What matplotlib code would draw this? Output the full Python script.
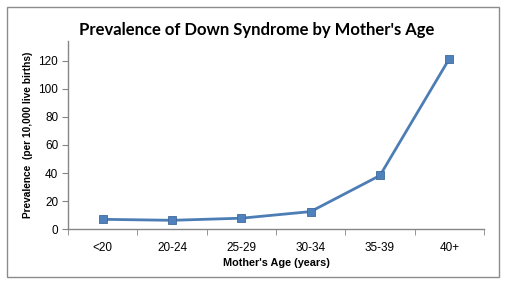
"""Prevalence of Down syndrome by mother's age, Excel-style line chart."""

import matplotlib
matplotlib.use("Agg")
import matplotlib.pyplot as plt
from matplotlib.patches import Rectangle

# data
age_groups = ["<20", "20-24", "25-29", "30-34", "35-39", "40+"]
prevalence = [7.1, 6.4, 7.9, 12.6, 38.3, 121.4]
y_ticks = [0, 20, 40, 60, 80, 100, 120]

W, H = 507, 286
fig = plt.figure(figsize=(W / 100, H / 100), dpi=100)
fig.patch.set_facecolor("white")

# outer chart border
fig.patches.append(Rectangle((7 / W, 1 - 277 / H), 492 / W, 270 / H,
                             transform=fig.transFigure, fill=False,
                             edgecolor="#8c8c8c", linewidth=1.0))

ax = fig.add_axes([68 / W, 1 - 229.3 / H, (484 - 68) / W, (229.3 - 41) / H])

x = list(range(len(age_groups)))
ax.plot(x, prevalence, color="#4d7db5", linewidth=2.0, marker="s",
        markersize=5.5, markerfacecolor="#4f81bd", markeredgecolor="#3f6a9e",
        markeredgewidth=0.6, zorder=3)

ax.set_xlim(-0.5, len(age_groups) - 0.5)
ax.set_ylim(0, 134)

ax.set_xticks(x)
ax.set_xticklabels(age_groups, fontsize=8.5, family="Liberation Sans")
ax.set_xticks([i - 0.5 for i in range(len(age_groups) + 1)], minor=True)
ax.tick_params(axis="x", which="major", length=0, pad=9)
ax.tick_params(axis="x", which="minor", length=4, color="#868686",
               direction="out")

ax.set_yticks(y_ticks)
ax.set_yticklabels([str(v) for v in y_ticks], fontsize=8.5,
                   family="Liberation Sans")
ax.tick_params(axis="y", length=4, color="#868686", direction="out", pad=3)

for side in ("top", "right"):
    ax.spines[side].set_visible(False)
for side in ("left", "bottom"):
    ax.spines[side].set_color("#868686")
    ax.spines[side].set_linewidth(1.0)

ax.set_xlabel("Mother's Age (years)", fontsize=7.8, fontweight="bold",
              family="Liberation Sans", labelpad=3)
ax.set_ylabel("Prevalence  (per 10,000 live births)", fontsize=7.3,
              fontweight="bold", family="Liberation Sans", labelpad=4)

fig.text(257 / W, 1 - 30 / H, "Prevalence of Down Syndrome by Mother's Age",
         ha="center", va="center", fontsize=12, fontweight="bold",
         family="Lato")

fig.savefig("out.png", dpi=100)
